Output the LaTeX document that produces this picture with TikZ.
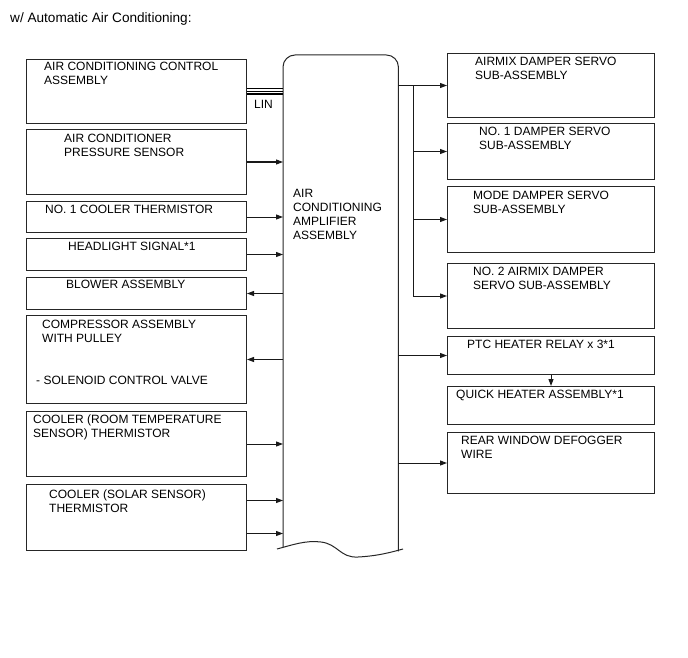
\documentclass[tikz,border=0pt]{standalone}
\usepackage{fontspec}
\setmainfont{Liberation Sans}
\usetikzlibrary{arrows.meta,positioning}

\begin{document}
\begin{tikzpicture}[x=1pt,y=-1pt,
  box/.style={draw=black!85,line width=1pt,anchor=north west,inner sep=0pt},
  txt/.style={anchor=north west,inner sep=0pt,align=left,font=\fontsize{12}{14}\selectfont},
  arr/.style={draw=black!90,line width=1pt,-{Triangle[length=7pt,width=5pt]}}]
  \useasboundingbox (0,0) rectangle (688,658);
  \node[txt,font=\fontsize{13.6}{15}\selectfont] (title) at (10,12) {w/ Automatic Air Conditioning:};

  \foreach \name/\y/\h in {acc/59/64,press/129/65,cool/201/31,head/238/32,
                           blow/277/32,comp/315/88,room/411/65,solar/484/66}
    \node[box,minimum width=220pt,minimum height=\h pt] (\name) at (26,\y) {};
  \foreach \name/\y/\h in {airmix/53/64,damp/123/56,mode/186/66,airmixb/263/65,
                           ptc/336/38,quick/386/38,rear/432/61}
    \node[box,minimum width=207pt,minimum height=\h pt] (\name) at (447,\y) {};

  \node[inner sep=0pt,minimum width=115pt,minimum height=492pt,anchor=north west] (amp) at (283,55) {};
  \draw[black!85,line width=1pt,rounded corners=12pt] (amp.south west) -- (amp.north west)
    -- (amp.north east) -- ([yshift=-4pt]amp.south east);
  \draw[black!85,line width=1pt] (277,549) .. controls (292,545) and (306,540) .. (321,542)
    .. controls (338,544) and (340,558) .. (358,557) .. controls (378,556) and (392,552) .. (403,549);

  \node[txt] (acc-t) at (44,62) {AIR CONDITIONING CONTROL\\ASSEMBLY};
  \node[txt] (press-t) at (64,134) {AIR CONDITIONER\\PRESSURE SENSOR};
  \node[txt] (cool-t) at (45,205) {NO. 1 COOLER THERMISTOR};
  \node[txt] (head-t) at (68,242) {HEADLIGHT SIGNAL*1};
  \node[txt] (blow-t) at (66,280) {BLOWER ASSEMBLY};
  \node[txt] (comp-t) at (42,320) {COMPRESSOR ASSEMBLY\\WITH PULLEY};
  \node[txt] (valve-t) at (36,376) {- SOLENOID CONTROL VALVE};
  \node[txt] (room-t) at (33,415) {COOLER (ROOM TEMPERATURE\\SENSOR) THERMISTOR};
  \node[txt] (solar-t) at (49,490) {COOLER (SOLAR SENSOR)\\THERMISTOR};
  \node[txt] (amp-t) at (293,189) {AIR\\CONDITIONING\\AMPLIFIER\\ASSEMBLY};
  \node[txt] (lin-t) at (254,100) {LIN};
  \node[txt] (airmix-t) at (475,57) {AIRMIX DAMPER SERVO\\SUB-ASSEMBLY};
  \node[txt] (damp-t) at (479,127) {NO. 1 DAMPER SERVO\\SUB-ASSEMBLY};
  \node[txt] (mode-t) at (473,191) {MODE DAMPER SERVO\\SUB-ASSEMBLY};
  \node[txt] (airmixb-t) at (473,267) {NO. 2 AIRMIX DAMPER\\SERVO SUB-ASSEMBLY};
  \node[txt] (ptc-t) at (467,340) {PTC HEATER RELAY x 3*1};
  \node[txt] (quick-t) at (456,390) {QUICK HEATER ASSEMBLY*1};
  \node[txt] (rear-t) at (461,436) {REAR WINDOW DEFOGGER\\WIRE};

  \foreach \s in {-2.6,0,2.6}
    \draw[line width=1.2pt] ([yshift=\s pt]acc.east) -- ([yshift=\s pt]acc.east -| amp.west);
  \foreach \name in {press,cool,head,room}
    \draw[arr] (\name.east) -- (\name.east -| amp.west);
  \foreach \name in {blow,comp}
    \draw[arr] (\name.east -| amp.west) -- (\name.east);
  \foreach \s in {17,-16}
    \draw[arr] ([yshift=\s pt]solar.east) -- ([yshift=\s pt]solar.east -| amp.west);

  \coordinate (bus) at (413,0);
  \draw[black!90,line width=1pt] (airmix.west -| amp.east) -- (airmix.west -| bus) -- (airmixb.west -| bus);
  \foreach \name in {airmix,damp,mode,airmixb}
    \draw[arr] (\name.west -| bus) -- (\name.west);
  \foreach \name in {ptc,rear}
    \draw[arr] (\name.west -| amp.east) -- (\name.west);
  \draw[arr] (ptc.south) -- (quick.north);
\end{tikzpicture}
\end{document}
